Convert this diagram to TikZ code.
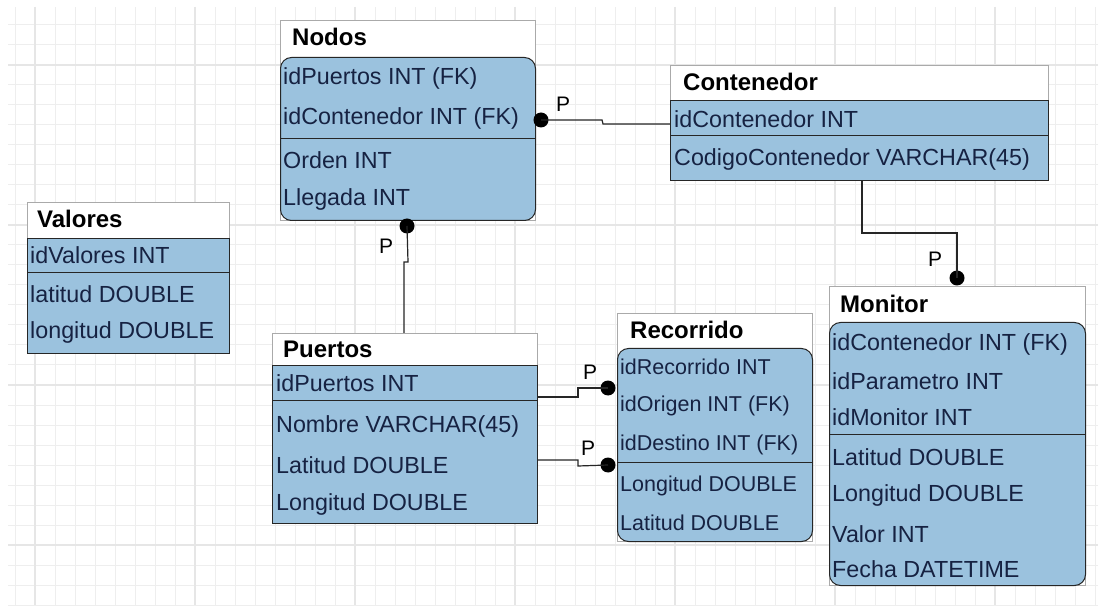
\documentclass[tikz,border=0pt]{standalone}
\usepackage{fontspec}
\setmainfont{Liberation Sans}

\definecolor{TableBlue}{RGB}{155,194,222}
\definecolor{FieldText}{RGB}{22,34,66}
\definecolor{EdgeGrey}{RGB}{170,170,170}
\definecolor{GridGrey}{RGB}{238,238,238}
\definecolor{GridMajor}{RGB}{230,230,230}

\tikzset{
	tablebox/.style={draw=EdgeGrey, fill=white, anchor=north west, inner sep=0pt, line width=1pt},
	bodybox/.style={draw=black!85, fill=TableBlue, anchor=north west, inner sep=0pt, line width=1pt},
	sepline/.style={draw=black!85, line width=1pt},
	title/.style={anchor=west, inner sep=0pt, text height=17pt, text depth=1pt, font=\fontsize{24}{27}\selectfont\bfseries},
	field/.style={anchor=west, inner sep=0pt, text height=17pt, text depth=1pt, text=FieldText, font=\fontsize{23.3}{26}\selectfont},
	smallfield/.style={field, font=\fontsize{21.5}{24}\selectfont},
	rel/.style={draw=black!85, line width=1.2pt},
	dot/.style={circle, fill=black, inner sep=0pt, minimum size=15pt},
	card/.style={inner sep=0pt, font=\fontsize{21}{23}\selectfont}
}

\begin{document}
\begin{tikzpicture}[x=1pt, y=-1pt]

	% Background and grid

	\useasboundingbox (0,0) rectangle (1098,612);
	\fill [white] (0,0) rectangle (1098,612);
	\begin{scope}[shift={(15,5)}]
		\draw [GridGrey, line width=1pt, step=20pt] (-7,2) grid (1083,600);
	\end{scope}
	\foreach \gx in {35,195,355,515,675,835,995}
		\draw [GridMajor, line width=1.2pt] (\gx,7) -- (\gx,605);
	\foreach \gy in {65,225,385,545}
		\draw [GridMajor, line width=1.2pt] (8,\gy) -- (1098,\gy);

	% Main rectangles

	\node [tablebox, minimum width=255pt, minimum height=200pt] (nodos) at (280,20) {};
	\node [bodybox, rounded corners=11pt, minimum width=255pt, minimum height=163pt] (nodosBody) at (280,57) {};
	\draw [sepline] (nodosBody.west |- 0,139) -- (nodosBody.east |- 0,139);

	\node [tablebox, minimum width=378pt, minimum height=115pt] (cont) at (670,65) {};
	\node [bodybox, minimum width=378pt, minimum height=80pt] (contBody) at (670,100) {};
	\draw [sepline] (contBody.west |- 0,136) -- (contBody.east |- 0,136);

	\node [tablebox, minimum width=202pt, minimum height=151pt] (valores) at (27,202) {};
	\node [bodybox, minimum width=202pt, minimum height=115pt] (valoresBody) at (27,238) {};
	\draw [sepline] (valoresBody.west |- 0,273) -- (valoresBody.east |- 0,273);

	\node [tablebox, minimum width=265pt, minimum height=190pt] (puertos) at (272,333) {};
	\node [bodybox, minimum width=265pt, minimum height=158pt] (puertosBody) at (272,365) {};
	\draw [sepline] (puertosBody.west |- 0,400) -- (puertosBody.east |- 0,400);

	\node [tablebox, minimum width=195pt, minimum height=228pt] (recorrido) at (617,313) {};
	\node [bodybox, rounded corners=11pt, minimum width=195pt, minimum height=193pt] (recorridoBody) at (617,348) {};
	\draw [sepline] (recorridoBody.west |- 0,462) -- (recorridoBody.east |- 0,462);

	\node [tablebox, minimum width=256pt, minimum height=299pt] (monitor) at (829,286) {};
	\node [bodybox, rounded corners=11pt, minimum width=256pt, minimum height=263pt] (monitorBody) at (829,322) {};
	\draw [sepline] (monitorBody.west |- 0,434) -- (monitorBody.east |- 0,434);

	% Labels

	\node [title] (nodosT) at (292,38) {Nodos};
	\node [field] (nodosA) at (283,77) {idPuertos INT (FK)};
	\node [field] (nodosB) at (283,117) {idContenedor INT (FK)};
	\node [field] (nodosC) at (283,161) {Orden INT};
	\node [field] (nodosD) at (283,198) {Llegada INT};

	\node [title] (contT) at (683,83) {Contenedor};
	\node [field] (contA) at (674,120) {idContenedor INT};
	\node [field] (contB) at (674,158) {CodigoContenedor VARCHAR(45)};

	\node [title] (valoresT) at (37,220) {Valores};
	\node [field] (valoresA) at (30,256) {idValores INT};
	\node [field] (valoresB) at (30,295) {latitud DOUBLE};
	\node [field] (valoresC) at (30,331) {longitud DOUBLE};

	\node [title] (puertosT) at (283,349) {Puertos};
	\node [field] (puertosA) at (276,383) {idPuertos INT};
	\node [field] (puertosB) at (276,424) {Nombre VARCHAR(45)};
	\node [field] (puertosC) at (276,465) {Latitud DOUBLE};
	\node [field] (puertosD) at (276,502) {Longitud DOUBLE};

	\node [title] (recorridoT) at (630,331) {Recorrido};
	\node [smallfield] (recorridoA) at (620,366) {idRecorrido INT};
	\node [smallfield] (recorridoB) at (620,403) {idOrigen INT (FK)};
	\node [smallfield] (recorridoC) at (620,442) {idDestino INT (FK)};
	\node [smallfield] (recorridoD) at (620,483) {Longitud DOUBLE};
	\node [smallfield] (recorridoE) at (620,522) {Latitud DOUBLE};

	\node [title] (monitorT) at (840,305) {Monitor};
	\node [field] (monitorA) at (832,343) {idContenedor INT (FK)};
	\node [field] (monitorB) at (832,381) {idParametro INT};
	\node [field] (monitorC) at (832,417) {idMonitor INT};
	\node [field] (monitorD) at (832,457) {Latitud DOUBLE};
	\node [field] (monitorE) at (832,493) {Longitud DOUBLE};
	\node [field] (monitorF) at (832,534) {Valor INT};
	\node [field] (monitorG) at (832,569) {Fecha DATETIME};

	% Relations

	\node [dot] (dotCont) at (541,120) {};
	\draw [rel] (dotCont.center) -- (602,120) -- (603,124) -- (contBody.west |- 0,124);
	\node [card] (pCont) at (563,104) {P};

	\node [dot] (dotNodos) at (407,226) {};
	\draw [rel] (dotNodos.center) -- (408,262) -- (404,262) -- (404,262 |- puertos.north);
	\node [card] (pNodos) at (386,246) {P};

	\node [dot] (dotOrigen) at (608,388) {};
	\draw [rel] (puertosBody.east |- 0,397) -- (578,397) -- (578,388) -- (dotOrigen.center);
	\node [card] (pOrigen) at (590,372) {P};

	\node [dot] (dotDestino) at (608,465) {};
	\draw [rel] (puertosBody.east |- 0,460) -- (578,460) -- (578,466) -- (dotDestino.center);
	\node [card] (pDestino) at (588,448) {P};

	\node [dot] (dotMonitor) at (957,278) {};
	\draw [rel] (contBody.south -| 862,0) -- (862,233) -- (957,233) -- (dotMonitor.center);
	\node [card] (pMonitor) at (935,259) {P};

\end{tikzpicture}
\end{document}
